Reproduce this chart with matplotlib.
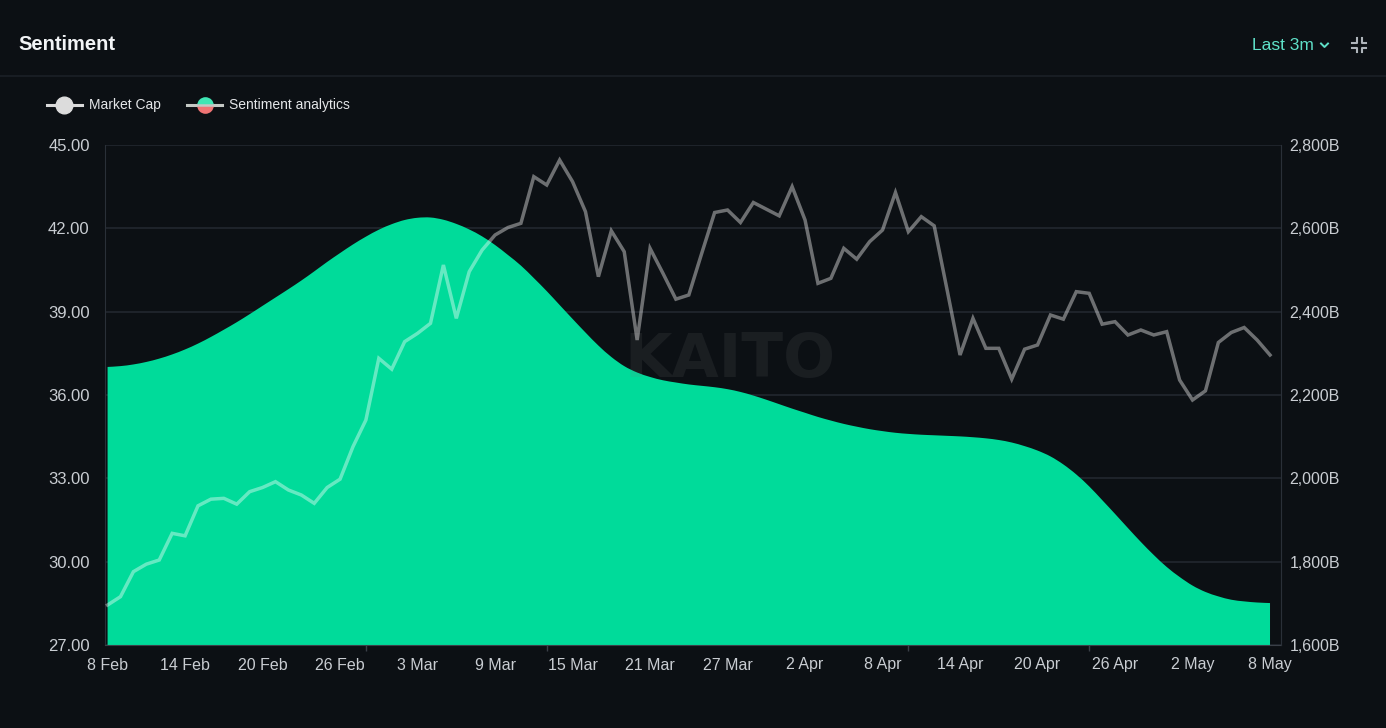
import numpy as np
import pandas as pd
import matplotlib
matplotlib.use("Agg")
import matplotlib.pyplot as plt
import matplotlib.dates as mdates
from matplotlib.lines import Line2D
from matplotlib.path import Path
from matplotlib.patches import PathPatch
from matplotlib.ticker import FuncFormatter, FixedLocator

# ---------------- data ----------------
start_date = "2024-02-08"
end_date = "2024-05-08"

sentiment = [
    37.01, 37.04, 37.10, 37.19, 37.31, 37.46, 37.64, 37.85, 38.09, 38.35,
    38.62, 38.91, 39.21, 39.51, 39.81, 40.12, 40.45, 40.79, 41.11, 41.42,
    41.70, 41.95, 42.15, 42.30, 42.38, 42.39, 42.31, 42.16, 41.96, 41.71,
    41.40, 41.04, 40.66, 40.21, 39.74, 39.24, 38.74, 38.25, 37.78, 37.37,
    37.04, 36.81, 36.65, 36.53, 36.45, 36.38, 36.33, 36.28, 36.21, 36.11,
    35.98, 35.83, 35.67, 35.51, 35.36, 35.21, 35.08, 34.96, 34.86, 34.77,
    34.70, 34.64, 34.60, 34.57, 34.55, 34.53, 34.51, 34.48, 34.44, 34.38,
    34.29, 34.16, 34.00, 33.79, 33.50, 33.14, 32.71, 32.22, 31.72, 31.21,
    30.71, 30.24, 29.81, 29.45, 29.14, 28.91, 28.75, 28.63, 28.57, 28.53,
    28.51,
]

market_cap_b = [
    1696, 1716, 1776, 1794, 1804, 1868, 1862, 1934, 1950, 1952,
    1938, 1968, 1978, 1992, 1972, 1960, 1940, 1978, 1998, 2076,
    2140, 2288, 2262, 2328, 2348, 2372, 2512, 2384, 2496, 2548,
    2584, 2602, 2612, 2724, 2704, 2764, 2712, 2640, 2484, 2594,
    2544, 2332, 2552, 2492, 2430, 2440, 2540, 2638, 2644, 2614,
    2662, 2646, 2630, 2700, 2620, 2468, 2480, 2552, 2526, 2568,
    2596, 2686, 2592, 2628, 2606, 2452, 2296, 2384, 2312, 2312,
    2238, 2310, 2320, 2392, 2382, 2448, 2444, 2370, 2376, 2344,
    2356, 2344, 2352, 2236, 2188, 2210, 2326, 2350, 2362, 2332,
    2296,
]

left_ticks = [27, 30, 33, 36, 39, 42, 45]
right_ticks = [1600, 1800, 2000, 2200, 2400, 2600, 2800]
series_names = ["Market Cap", "Sentiment analytics"]
title = "Sentiment"
range_label = "Last 3m"
watermark = "KAITO"

dates = pd.date_range(start_date, end_date, freq="D")

# ---------------- style ----------------
W, H = 1386, 728
BG = "#0c1014"
GREEN = "#00db9a"
GRID = "#242a32"
TICK = "#c9cdd2"
TEAL = "#5fe0c8"

plt.rcParams["font.family"] = ["Liberation Sans", "DejaVu Sans"]

def fx(px):
    return px / W

def fy(py):
    return 1 - py / H

fig = plt.figure(figsize=(W / 100, H / 100), dpi=100, facecolor=BG)

ax_left, ax_right, ax_top, ax_bot = 105, 1281, 145, 645
ax = fig.add_axes([fx(ax_left), fy(ax_bot), fx(ax_right - ax_left), (ax_bot - ax_top) / H])
ax.set_facecolor(BG)

# smooth (Catmull-Rom) area through the daily sentiment values
xs = mdates.date2num(dates)
ys = np.asarray(sentiment, dtype=float)
base = left_ticks[0]
verts = [(xs[0], base), (xs[0], ys[0])]
codes = [Path.MOVETO, Path.LINETO]
n = len(xs)
for i in range(n - 1):
    x_prev, y_prev = (xs[i - 1], ys[i - 1]) if i > 0 else (xs[i], ys[i])
    x_next2, y_next2 = (xs[i + 2], ys[i + 2]) if i + 2 < n else (xs[i + 1], ys[i + 1])
    c1 = (xs[i] + (xs[i + 1] - x_prev) / 6, ys[i] + (ys[i + 1] - y_prev) / 6)
    c2 = (xs[i + 1] - (x_next2 - xs[i]) / 6, ys[i + 1] - (y_next2 - ys[i]) / 6)
    verts += [c1, c2, (xs[i + 1], ys[i + 1])]
    codes += [Path.CURVE4] * 3
verts += [(xs[-1], base), (xs[0], base)]
codes += [Path.LINETO, Path.CLOSEPOLY]
ax.add_patch(PathPatch(Path(verts, codes), facecolor=GREEN, edgecolor="none", zorder=2))

ax.set_ylim(left_ticks[0], left_ticks[-1])
ax.set_yticks(left_ticks)
ax.yaxis.set_major_formatter(FuncFormatter(lambda v, p: f"{v:.2f}"))
ax.set_xlim(xs[0] - 0.2, xs[-1] + 0.85)
ax.set_xticks(xs[::6])
ax.xaxis.set_major_formatter(mdates.DateFormatter("%-d %b"))
ax.xaxis.set_minor_locator(FixedLocator(xs[6::14]))
ax.grid(axis="y", color=GRID, lw=1.1, zorder=0)
ax.set_axisbelow(True)
ax.tick_params(axis="y", length=0, pad=11, labelsize=12, colors=TICK)
ax.tick_params(axis="x", which="major", length=0, pad=9, labelsize=11.5, colors=TICK)
ax.tick_params(axis="x", which="minor", length=4, width=1, color="#3a4048")
for s in ["left", "right"]:
    ax.spines[s].set_color("#2a3038")
ax.spines["top"].set_visible(False)
ax.spines["bottom"].set_color("#3a4048")

ax.text(0.442, 0.568, watermark, transform=ax.transAxes, fontsize=44, fontweight="bold",
        family="DejaVu Sans", color=(0.48, 0.49, 0.5), alpha=0.13, ha="left", va="center",
        zorder=3)

ax2 = ax.twinx()
ax2.plot(dates, market_cap_b, color="white", alpha=0.4, lw=2.5, zorder=4,
         solid_joinstyle="miter")
ax2.set_ylim(right_ticks[0], right_ticks[-1])
ax2.set_yticks(right_ticks)
ax2.yaxis.set_major_formatter(FuncFormatter(lambda v, p: f"{v:,.0f}B"))
ax2.tick_params(axis="y", length=0, pad=6, labelsize=11.5, colors=TICK)
for s in ["left", "top", "bottom"]:
    ax2.spines[s].set_visible(False)
ax2.spines["right"].set_color("#2a3038")

# ---------------- header ----------------
fig.text(fx(18), fy(45), title, fontsize=14.5, fontweight="bold", color="#f2f4f6",
         ha="left", va="center", family=["Liberation Sans"])
fig.add_artist(Line2D([0, 1], [fy(76), fy(76)], color="#1b2027", lw=1.2))
fig.text(fx(1252), fy(45), range_label, fontsize=12.5, color=TEAL, ha="left", va="center")
fig.add_artist(Line2D([fx(1321), fx(1324.5), fx(1328)], [fy(43.5), fy(47), fy(43.5)],
                      color=TEAL, lw=1.4))
# compress icon
ic = "#aeb4ba"
cx, cy = 1359, 45
for sx in (-1, 1):
    for sy in (-1, 1):
        x0, y0 = cx + sx * 2.5, cy + sy * 2.5
        fig.add_artist(Line2D([fx(x0), fx(x0), fx(x0 + sx * 4.5)],
                              [fy(y0 + sy * 4.5), fy(y0), fy(y0)], color=ic, lw=1.5))

# ---------------- legend ----------------
ly = fy(105)
fig.add_artist(Line2D([fx(47), fx(82)], [ly, ly], color="#d9d9d9", lw=2.2))
fig.add_artist(Line2D([fx(64)], [ly], marker="o", ms=12, color="#dcdcdc", mec="#dcdcdc"))
fig.text(fx(89), ly, series_names[0], fontsize=10, color="#e4e6e8", ha="left", va="center")
fig.add_artist(Line2D([fx(187), fx(222)], [ly, ly], color="#c4c8c4", lw=2.2))
fig.add_artist(Line2D([fx(204.5)], [ly], marker="o", ms=12, fillstyle="top",
                      markerfacecolor="#3fe6b4", markerfacecoloralt="#f07474",
                      markeredgewidth=0, color="#3fe6b4"))
fig.add_artist(Line2D([fx(196), fx(213)], [ly, ly], color="#c4c8c4", lw=1.8))
fig.text(fx(229), ly, series_names[1], fontsize=10, color="#e4e6e8", ha="left", va="center")

fig.savefig("out.png", dpi=100, facecolor=BG)
